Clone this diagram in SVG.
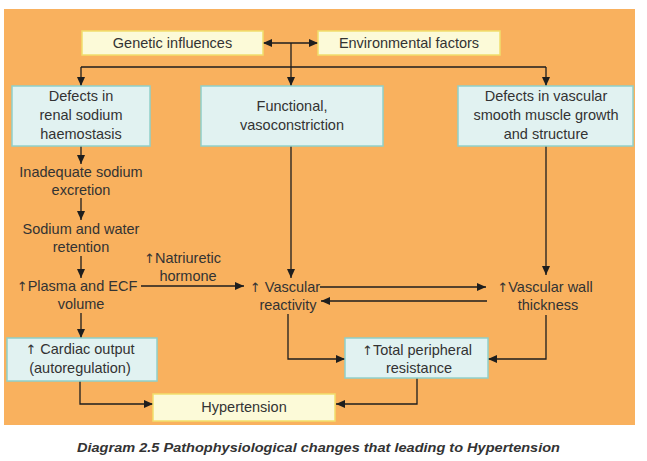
<svg xmlns="http://www.w3.org/2000/svg" width="647" height="461" viewBox="0 0 647 461">
<defs>
<marker id="ah" markerUnits="userSpaceOnUse" markerWidth="10" markerHeight="9" refX="9" refY="4" orient="auto-start-reverse">
<path d="M0,0 L9,4 L0,8 z" fill="#1e1e1e"/>
</marker>
<style>
.t{font-family:"Liberation Sans",Arial,sans-serif;font-size:14.5px;fill:#333;text-anchor:middle}
.ts{font-family:"Liberation Sans",Arial,sans-serif;font-size:14.5px;fill:#333}
.up{font-size:13px;font-family:"DejaVu Sans",sans-serif}
.cy{fill:#E1F2F1;stroke:#8FD0CA;stroke-width:1.5}
.ye{fill:#FCFAD8;stroke:#F1DE6C;stroke-width:1.5}
.c{fill:none;stroke:#1e1e1e;stroke-width:1.3}
.a{marker-end:url(#ah)}
.cap{font-family:"Liberation Sans",Arial,sans-serif;font-size:13px;font-style:italic;font-weight:bold;fill:#333}
</style>
</defs>
<rect width="647" height="461" fill="#fff"/>
<rect x="4" y="9" width="631" height="416" fill="#F9B15E"/>

<g id="connectors">
<path class="c" d="M263,43 H318" marker-start="url(#ah)" marker-end="url(#ah)"/>
<path class="c a" d="M291,43 V86"/>
<path class="c" d="M81,67 H546"/>
<path class="c a" d="M81,67 V86"/>
<path class="c a" d="M546,67 V86"/>
<path class="c a" d="M81,146 V164"/>
<path class="c a" d="M81,198 V220"/>
<path class="c a" d="M81,256 V278"/>
<path class="c a" d="M81,313 V338"/>
<path class="c a" d="M80,381 V404 H153"/>
<path class="c a" d="M141,286 H244"/>
<path class="c a" d="M291,146 V278"/>
<path class="c a" d="M546,146 V275"/>
<path class="c a" d="M320,287 H486"/>
<path class="c a" d="M487,301 H321"/>
<path class="c a" d="M546,315 V359 H488"/>
<path class="c a" d="M288,314 V359 H345"/>
<path class="c a" d="M417,378 V404 H336"/>
</g>

<g id="genetic">
<rect class="ye" x="82" y="31" width="181" height="24"/>
<text class="t" x="172.5" y="48">Genetic influences</text>
</g>
<g id="environmental">
<rect class="ye" x="318" y="31" width="182" height="24"/>
<text class="t" x="409" y="48">Environmental factors</text>
</g>

<g id="renal">
<rect class="cy" x="12" y="86" width="138" height="60"/>
<text class="t" x="81" y="101">Defects in</text>
<text class="t" x="81" y="120">renal sodium</text>
<text class="t" x="81" y="139">haemostasis</text>
</g>
<g id="functional">
<rect class="cy" x="201" y="86" width="182" height="60"/>
<text class="t" x="292" y="111">Functional,</text>
<text class="t" x="292" y="130">vasoconstriction</text>
</g>
<g id="smooth">
<rect class="cy" x="458" y="86" width="175" height="60"/>
<text class="t" x="546" y="101">Defects in vascular</text>
<text class="t" x="546" y="120">smooth muscle growth</text>
<text class="t" x="546" y="139">and structure</text>
</g>

<g id="inadequate">
<text class="t" x="81" y="177">Inadequate sodium</text>
<text class="t" x="81" y="195">excretion</text>
</g>
<g id="retention">
<text class="t" x="81" y="234">Sodium and water</text>
<text class="t" x="81" y="252">retention</text>
</g>
<g id="plasma">
<text class="t" x="77" y="291"><tspan class="up">↑</tspan>Plasma and ECF</text>
<text class="t" x="81" y="309">volume</text>
</g>
<g id="natriuretic">
<text class="ts" x="144" y="263"><tspan class="up">↑</tspan>Natriuretic</text>
<text class="t" x="188" y="281">hormone</text>
</g>
<g id="reactivity">
<text class="t" x="285" y="292"><tspan class="up">↑</tspan> Vascular</text>
<text class="t" x="288" y="310">reactivity</text>
</g>
<g id="wall">
<text class="t" x="545" y="292"><tspan class="up">↑</tspan>Vascular wall</text>
<text class="t" x="548" y="310">thickness</text>
</g>
<g id="cardiac">
<rect class="cy" x="7" y="338" width="150" height="43"/>
<text class="t" x="80" y="354"><tspan class="up">↑</tspan> Cardiac output</text>
<text class="t" x="80" y="373">(autoregulation)</text>
</g>
<g id="tpr">
<rect class="cy" x="345" y="338" width="143" height="40"/>
<text class="t" x="417" y="355"><tspan class="up">↑</tspan>Total peripheral</text>
<text class="t" x="419" y="373">resistance</text>
</g>
<g id="hypertension">
<rect class="ye" x="153" y="394" width="182" height="27"/>
<text class="t" x="244" y="412">Hypertension</text>
</g>

<text class="cap" x="77" y="452" textLength="483" lengthAdjust="spacingAndGlyphs">Diagram 2.5 Pathophysiological changes that leading to Hypertension</text>
</svg>
